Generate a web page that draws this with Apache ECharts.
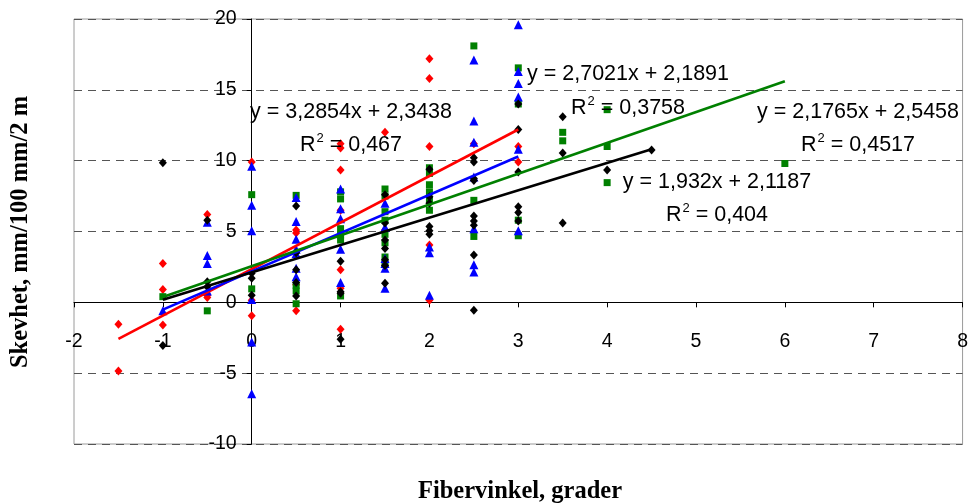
<!DOCTYPE html>
<html>
<head>
<meta charset="utf-8">
<script src="https://cdn.jsdelivr.net/npm/echarts@6/dist/echarts.min.js"></script>
<style>
  html, body { margin: 0; padding: 0; background: #ffffff; }
  #chart { width: 971px; height: 503px; }
</style>
</head>
<body>
<div id="chart"></div>
<script>
// Measured points, [fibre angle (grader), skew (mm/100 mm/2 m)]
const redPoints = [
  [-1.5, -1.55], [-1.5, -4.85],
  [-1, 2.75], [-1, 0.9], [-1, -1.6],
  [-0.5, 6.2], [-0.5, 0.5], [-0.5, 0.35],
  [0, 9.9], [0, 0.15], [0, -0.95],
  [0.5, 5.1], [0.5, 4.9], [0.5, 1.25], [0.5, -0.6],
  [1, 11.2], [1, 10.9], [1, 9.35], [1, 6.5], [1, 2.3], [1, 1.0], [1, -1.9],
  [1.5, 12.0], [1.5, 5.1],
  [2, 17.2], [2, 15.8], [2, 11.0], [2, 4.05], [2, 0.15],
  [2.5, 11.2],
  [3, 11.0], [3, 9.9]
];
const bluePoints = [
  [-1, -0.6],
  [-0.5, 5.65], [-0.5, 3.3], [-0.5, 2.75], [-0.5, 0.8],
  [0, 9.6], [0, 6.85], [0, 5.05], [0, 0.2], [0, -2.8], [0, -6.45],
  [0.5, 7.4], [0.5, 5.7], [0.5, 4.45], [0.5, 3.75], [0.5, 3.45], [0.5, 2.4], [0.5, 1.8],
  [1, 8.0], [1, 6.6], [1, 5.9], [1, 3.75], [1, 1.4],
  [1.5, 7.0], [1.5, 5.3], [1.5, 3.1], [1.5, 2.75], [1.5, 2.4], [1.5, 1.0],
  [2, 3.9], [2, 3.5], [2, 0.5],
  [2.5, 17.1], [2.5, 12.8], [2.5, 11.3], [2.5, 8.85], [2.5, 5.2], [2.5, 2.65], [2.5, 2.15],
  [3, 19.6], [3, 16.3], [3, 15.45], [3, 14.5], [3, 10.8], [3, 5.05]
];
const greenPoints = [
  [-1, 0.4],
  [-0.5, -0.6],
  [0, 7.6], [0, 0.95],
  [0.5, 7.55], [0.5, 1.2], [0.5, 0.8], [0.5, -0.1],
  [1, 7.8], [1, 7.3], [1, 5.2], [1, 4.75], [1, 4.4], [1, 0.45],
  [1.5, 8.0], [1.5, 7.5], [1.5, 6.4], [1.5, 5.8], [1.5, 4.8], [1.5, 4.2], [1.5, 3.2], [1.5, 2.7],
  [2, 9.5], [2, 9.1], [2, 8.3], [2, 7.8], [2, 7.2], [2, 6.5],
  [2.5, 18.1], [2.5, 7.2], [2.5, 4.65],
  [3, 16.55], [3, 14.0], [3, 5.8], [3, 4.7],
  [3.5, 12.0], [3.5, 11.4],
  [4, 13.6], [4, 11.0], [4, 8.45],
  [6, 9.8]
];
const blackPoints = [
  [-1, 9.85], [-1, -3.05],
  [-0.5, 5.8], [-0.5, 1.45], [-0.5, 1.1],
  [0, 2.05], [0, 1.7], [0, 0.5],
  [0.5, 6.8], [0.5, 3.5], [0.5, 2.3], [0.5, 1.4], [0.5, 0.45],
  [1, 2.9], [1, 0.75], [1, 0.65], [1, -2.6],
  [1.5, 7.6], [1.5, 5.6], [1.5, 4.4], [1.5, 3.8], [1.5, 3.0], [1.5, 2.6], [1.5, 1.35],
  [2, 9.4], [2, 7.45], [2, 7.0], [2, 5.35], [2, 5.05], [2, 4.8],
  [2.5, 10.2], [2.5, 9.9], [2.5, 8.75], [2.5, 8.6], [2.5, 6.1], [2.5, 5.75], [2.5, 5.45], [2.5, 3.35], [2.5, -0.55],
  [3, 14.0], [3, 12.2], [3, 9.2], [3, 6.75], [3, 6.35], [3, 5.75],
  [3.5, 13.1], [3.5, 10.55], [3.5, 5.6],
  [4, 9.35],
  [4.5, 10.75]
];

// Linear trend lines: y = slope * x + intercept, drawn over [xFrom, xTo]
const trendNames  = ['red', 'blue', 'green', 'black'];
const slopes      = [3.2854, 2.7021, 2.1765, 1.932];
const intercepts  = [2.3438, 2.1891, 2.5458, 2.1187];
const rSquared    = [0.467, 0.3758, 0.4517, 0.404];
const trendFrom   = [-1.5, -1, -1, -1];
const trendTo     = [3, 3, 6, 4.5];

// Axis ranges
const xTicks = [-2, -1, 0, 1, 2, 3, 4, 5, 6, 7, 8];
const yTicks = [-10, -5, 0, 5, 10, 15, 20];

const colors = { red: '#ff0000', blue: '#0000ff', green: '#008000', black: '#000000' };
const SANS = "'Liberation Sans', Arial, sans-serif";
const SERIF = "'Liberation Serif', 'Times New Roman', serif";

const fmt = v => String(v).replace('.', ',');

const GRID = { left: 74, top: 19, right: 4, bottom: 59 };
const CHART_H = 503;

const chart = echarts.init(document.getElementById('chart'), null, { renderer: 'canvas' });

const scatterSeries = [
  { name: 'red', data: redPoints, symbol: 'diamond', symbolSize: [8, 9] },
  { name: 'green', data: greenPoints, symbol: 'rect', symbolSize: 7 },
  { name: 'blue', data: bluePoints, symbol: 'triangle', symbolSize: 9 },
  { name: 'black', data: blackPoints, symbol: 'diamond', symbolSize: [8, 9] }
].map((s, i) => ({
  type: 'scatter',
  name: s.name,
  data: s.data,
  symbol: s.symbol,
  symbolSize: s.symbolSize,
  itemStyle: { color: colors[s.name], opacity: 1 },
  z: 2 + i,
  silent: true
}));

const lineSeries = trendNames.map((n, i) => ({
  type: 'line',
  name: n + ' trend',
  data: [
    [trendFrom[i], slopes[i] * trendFrom[i] + intercepts[i]],
    [trendTo[i], slopes[i] * trendTo[i] + intercepts[i]]
  ],
  showSymbol: false,
  symbol: 'none',
  lineStyle: { color: colors[n], width: 2.6 },
  z: 10,
  silent: true,
  animation: false
}));

// Equation label placement (pixel centres of the two text lines)
const eqLayout = [
  { cx: 351, y1: 112, y2: 144 },
  { cx: 628, y1: 74, y2: 107 },
  { cx: 858, y1: 112, y2: 144 },
  { cx: 717, y1: 182, y2: 214 }
];

const eqGraphics = [];
trendNames.forEach((n, i) => {
  const L = eqLayout[i];
  eqGraphics.push({
    type: 'text', x: L.cx, y: L.y1, z: 20,
    style: {
      text: 'y = ' + fmt(slopes[i]) + 'x + ' + fmt(intercepts[i]),
      font: '21.5px ' + SANS, fill: '#000', align: 'center', verticalAlign: 'middle'
    }
  });
  eqGraphics.push({
    type: 'text', x: L.cx, y: L.y2, z: 20,
    style: {
      text: '{a|R}{s|2}{a| = ' + fmt(rSquared[i]) + '}',
      align: 'center', verticalAlign: 'middle',
      rich: {
        a: { fontSize: 21.5, fontFamily: SANS, color: '#000', lineHeight: 25, verticalAlign: 'bottom' },
        s: { fontSize: 13, fontFamily: SANS, color: '#000', lineHeight: 25, verticalAlign: 'top', padding: [0, 0, 0, 1] }
      }
    }
  });
});

const option = {
  animation: false,
  backgroundColor: '#ffffff',
  grid: Object.assign({}, GRID, {
    show: true, borderColor: '#9a9a9a', borderWidth: 1, backgroundColor: 'transparent'
  }),
  xAxis: {
    type: 'value',
    position: 'bottom',
    min: xTicks[0], max: xTicks[xTicks.length - 1], interval: 1,
    axisLine: { onZero: false, lineStyle: { color: '#000', width: 1 } },
    axisTick: { show: true, length: 5, lineStyle: { color: '#000' } },
    axisLabel: { margin: 29, fontSize: 19.5, color: '#000', fontFamily: SANS },
    splitLine: { show: false }
  },
  yAxis: {
    type: 'value',
    position: 'left',
    min: yTicks[0], max: yTicks[yTicks.length - 1], interval: 5,
    axisLine: { show: true, onZero: false, lineStyle: { color: '#000', width: 1 } },
    axisTick: { show: true, length: 5, lineStyle: { color: '#000' } },
    axisLabel: { margin: 15, fontSize: 19.5, color: '#000', fontFamily: SANS },
    splitLine: { show: true, lineStyle: { color: '#555', type: [8, 6], width: 1 } }
  },
  series: scatterSeries.concat(lineSeries),
  graphic: eqGraphics.concat([
    {
      type: 'text', x: 21, y: 232, rotation: Math.PI / 2, z: 20,
      style: {
        text: 'Skevhet, mm/100 mm/2 m',
        font: 'bold 24.5px ' + SERIF, fill: '#000', align: 'center', verticalAlign: 'middle'
      }
    },
    {
      type: 'text', x: 520, y: 492, z: 20,
      style: {
        text: 'Fibervinkel, grader',
        font: 'bold 24.5px ' + SERIF, fill: '#000', align: 'center', verticalAlign: 'middle'
      }
    }
  ])
};

chart.setOption(option);

// Move both axes (line, ticks and labels) so they cross at the origin.
const origin = chart.convertToPixel({ gridIndex: 0 }, [0, 0]);
const gridBottomPx = CHART_H - GRID.bottom;
const gridLeftPx = GRID.left;
chart.setOption({
  xAxis: { offset: -(gridBottomPx - origin[1]) },
  yAxis: { offset: -(origin[0] - gridLeftPx) }
});
</script>
</body>
</html>
